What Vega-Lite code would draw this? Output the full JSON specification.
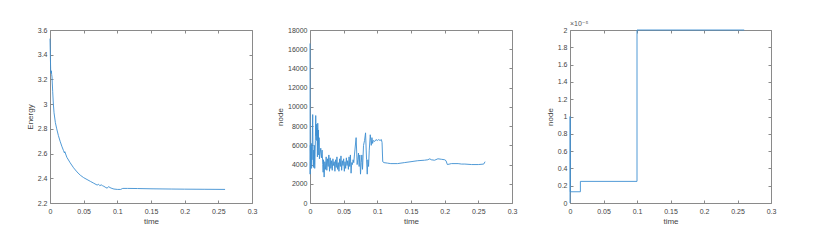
{
  "$schema": "https://vega.github.io/schema/vega-lite/v6.json",
  "background": "white",
  "padding": {"left": 25, "top": 19, "right": 5, "bottom": 5},
  "spacing": 58,
  "bounds": "flush",
  "datasets": {
    "energy": [
      {"t":0,"v":3.53},{"t":0.0005,"v":3.40},{"t":0.001,"v":3.27},{"t":0.0015,"v":3.25},{"t":0.002,"v":3.27},{"t":0.0025,"v":3.24},{"t":0.003,"v":3.22},{"t":0.004,"v":3.10},{"t":0.005,"v":3.00},{"t":0.006,"v":2.93},{"t":0.008,"v":2.85},{"t":0.01,"v":2.80},{"t":0.0125,"v":2.745},{"t":0.015,"v":2.70},{"t":0.0175,"v":2.66},{"t":0.02,"v":2.625},{"t":0.0215,"v":2.605},{"t":0.022,"v":2.615},{"t":0.025,"v":2.57},{"t":0.03,"v":2.525},{"t":0.035,"v":2.485},{"t":0.04,"v":2.452},{"t":0.045,"v":2.425},{"t":0.05,"v":2.405},{"t":0.055,"v":2.39},{"t":0.06,"v":2.375},{"t":0.065,"v":2.36},{"t":0.07,"v":2.345},{"t":0.072,"v":2.352},{"t":0.074,"v":2.34},{"t":0.076,"v":2.347},{"t":0.078,"v":2.34},{"t":0.08,"v":2.335},{"t":0.083,"v":2.325},{"t":0.085,"v":2.32},{"t":0.087,"v":2.333},{"t":0.089,"v":2.325},{"t":0.092,"v":2.318},{"t":0.095,"v":2.313},{"t":0.1,"v":2.31},{"t":0.105,"v":2.31},{"t":0.108,"v":2.318},{"t":0.115,"v":2.318},{"t":0.13,"v":2.317},{"t":0.15,"v":2.315},{"t":0.18,"v":2.313},{"t":0.2,"v":2.312},{"t":0.23,"v":2.311},{"t":0.26,"v":2.31}
    ],
    "node": [
      {"t":0,"v":16600},{"t":0.0002,"v":3000},{"t":0.0005,"v":6000},{"t":0.001,"v":4200},{"t":0.0015,"v":5800},{"t":0.002,"v":3600},{"t":0.0025,"v":6200},{"t":0.003,"v":4500},{"t":0.004,"v":9200},{"t":0.0045,"v":5000},{"t":0.005,"v":3700},{"t":0.0055,"v":5500},{"t":0.006,"v":4000},{"t":0.0065,"v":6000},{"t":0.007,"v":3600},{"t":0.0075,"v":5000},{"t":0.008,"v":6500},{"t":0.0085,"v":9100},{"t":0.009,"v":7000},{"t":0.0095,"v":8200},{"t":0.01,"v":6500},{"t":0.0105,"v":7800},{"t":0.011,"v":4800},{"t":0.0115,"v":8300},{"t":0.012,"v":6000},{"t":0.0125,"v":7600},{"t":0.013,"v":5000},{"t":0.0135,"v":6800},{"t":0.014,"v":4600},{"t":0.015,"v":5200},{"t":0.016,"v":5700},{"t":0.017,"v":4700},{"t":0.018,"v":5500},{"t":0.019,"v":4000},{"t":0.0195,"v":3200},{"t":0.02,"v":4500},{"t":0.021,"v":2700},{"t":0.022,"v":4300},{"t":0.023,"v":3500},{"t":0.024,"v":4800},{"t":0.025,"v":3400},{"t":0.026,"v":4600},{"t":0.027,"v":3800},{"t":0.028,"v":5000},{"t":0.029,"v":3300},{"t":0.03,"v":4700},{"t":0.031,"v":3600},{"t":0.032,"v":4400},{"t":0.033,"v":3400},{"t":0.034,"v":4600},{"t":0.035,"v":3900},{"t":0.036,"v":4300},{"t":0.037,"v":3300},{"t":0.038,"v":4500},{"t":0.039,"v":3700},{"t":0.04,"v":4800},{"t":0.041,"v":3500},{"t":0.042,"v":4200},{"t":0.043,"v":3300},{"t":0.044,"v":4600},{"t":0.045,"v":3800},{"t":0.046,"v":4900},{"t":0.047,"v":3400},{"t":0.048,"v":4400},{"t":0.049,"v":3900},{"t":0.05,"v":4600},{"t":0.051,"v":3300},{"t":0.052,"v":4300},{"t":0.053,"v":3600},{"t":0.054,"v":4700},{"t":0.055,"v":3900},{"t":0.056,"v":4400},{"t":0.057,"v":3500},{"t":0.058,"v":4800},{"t":0.059,"v":3800},{"t":0.06,"v":5000},{"t":0.061,"v":3100},{"t":0.062,"v":4200},{"t":0.063,"v":4000},{"t":0.064,"v":4500},{"t":0.065,"v":4200},{"t":0.066,"v":5000},{"t":0.0685,"v":6800},{"t":0.0695,"v":5000},{"t":0.07,"v":4000},{"t":0.071,"v":4500},{"t":0.072,"v":5200},{"t":0.073,"v":3800},{"t":0.074,"v":5000},{"t":0.075,"v":3000},{"t":0.076,"v":4200},{"t":0.077,"v":5000},{"t":0.078,"v":3500},{"t":0.0795,"v":6000},{"t":0.081,"v":6500},{"t":0.0825,"v":7300},{"t":0.084,"v":4500},{"t":0.085,"v":3000},{"t":0.086,"v":4500},{"t":0.087,"v":3800},{"t":0.088,"v":5500},{"t":0.0895,"v":7100},{"t":0.091,"v":6000},{"t":0.092,"v":6800},{"t":0.093,"v":6200},{"t":0.094,"v":6500},{"t":0.096,"v":6400},{"t":0.098,"v":6600},{"t":0.1,"v":6500},{"t":0.102,"v":6600},{"t":0.104,"v":6500},{"t":0.106,"v":6600},{"t":0.107,"v":6300},{"t":0.108,"v":4300},{"t":0.11,"v":4200},{"t":0.115,"v":4150},{"t":0.12,"v":4100},{"t":0.13,"v":4100},{"t":0.14,"v":4200},{"t":0.15,"v":4300},{"t":0.16,"v":4400},{"t":0.17,"v":4450},{"t":0.175,"v":4500},{"t":0.178,"v":4600},{"t":0.18,"v":4500},{"t":0.185,"v":4450},{"t":0.19,"v":4600},{"t":0.195,"v":4550},{"t":0.2,"v":4500},{"t":0.202,"v":4400},{"t":0.204,"v":4000},{"t":0.21,"v":4100},{"t":0.22,"v":4100},{"t":0.225,"v":4050},{"t":0.23,"v":4050},{"t":0.24,"v":4000},{"t":0.25,"v":4000},{"t":0.258,"v":4050},{"t":0.26,"v":4300}
    ],
    "step": [
      {"i":0,"t":0,"v":0},{"i":1,"t":0.0002,"v":1.0},{"i":2,"t":0.0004,"v":0.13},{"i":3,"t":0.0155,"v":0.13},{"i":4,"t":0.0155,"v":0.25},{"i":5,"t":0.1,"v":0.25},{"i":6,"t":0.1,"v":2.0},{"i":7,"t":0.26,"v":2.0}
    ]
  },
  "hconcat": [
    {
      "width": 202, "height": 173,
      "data": {"name": "energy"},
      "layer": [
        {
          "mark": {"type": "line", "color": "#3d8fd1", "strokeWidth": 0.9},
          "encoding": {
            "x": {"field": "t", "type": "quantitative", "scale": {"domain": [0, 0.3], "nice": false},
                  "axis": {"orient": "bottom", "title": "time", "values": [0,0.05,0.1,0.15,0.2,0.25,0.3], "format": "~g"}},
            "y": {"field": "v", "type": "quantitative", "scale": {"domain": [2.2, 3.6], "nice": false, "zero": false},
                  "axis": {"orient": "left", "title": "Energy", "values": [2.2,2.4,2.6,2.8,3,3.2,3.4,3.6], "format": "~g"}}
          }
        },
        {
          "mark": {"type": "line", "opacity": 0},
          "encoding": {
            "x": {"field": "t", "type": "quantitative", "axis": {"orient": "top", "labels": false, "title": null, "values": [0,0.05,0.1,0.15,0.2,0.25,0.3]}},
            "y": {"field": "v", "type": "quantitative", "axis": {"orient": "right", "labels": false, "title": null, "values": [2.2,2.4,2.6,2.8,3,3.2,3.4,3.6]}}
          }
        }
      ],
      "resolve": {"axis": {"x": "independent", "y": "independent"}}
    },
    {
      "width": 202, "height": 173,
      "data": {"name": "node"},
      "layer": [
        {
          "mark": {"type": "line", "color": "#3d8fd1", "strokeWidth": 0.9},
          "encoding": {
            "x": {"field": "t", "type": "quantitative", "scale": {"domain": [0, 0.3], "nice": false},
                  "axis": {"orient": "bottom", "title": "time", "values": [0,0.05,0.1,0.15,0.2,0.25,0.3], "format": "~g"}},
            "y": {"field": "v", "type": "quantitative", "scale": {"domain": [0, 18000], "nice": false},
                  "axis": {"orient": "left", "title": "node", "values": [0,2000,4000,6000,8000,10000,12000,14000,16000,18000], "format": "d"}}
          }
        },
        {
          "mark": {"type": "line", "opacity": 0},
          "encoding": {
            "x": {"field": "t", "type": "quantitative", "axis": {"orient": "top", "labels": false, "title": null, "values": [0,0.05,0.1,0.15,0.2,0.25,0.3]}},
            "y": {"field": "v", "type": "quantitative", "axis": {"orient": "right", "labels": false, "title": null, "values": [0,2000,4000,6000,8000,10000,12000,14000,16000,18000]}}
          }
        }
      ],
      "resolve": {"axis": {"x": "independent", "y": "independent"}}
    },
    {
      "width": 201, "height": 173,
      "title": {"text": "×10⁻⁵", "anchor": "start", "frame": "group", "fontSize": 7, "fontWeight": "normal", "color": "#555555", "offset": -1, "font": "Liberation Sans, DejaVu Sans"},
      "data": {"name": "step"},
      "layer": [
        {
          "mark": {"type": "line", "color": "#3d8fd1", "strokeWidth": 0.9},
          "encoding": {
            "x": {"field": "t", "type": "quantitative", "scale": {"domain": [0, 0.3], "nice": false},
                  "axis": {"orient": "bottom", "title": "time", "values": [0,0.05,0.1,0.15,0.2,0.25,0.3], "format": "~g"}},
            "y": {"field": "v", "type": "quantitative", "scale": {"domain": [0, 2], "nice": false},
                  "axis": {"orient": "left", "title": "node", "values": [0,0.2,0.4,0.6,0.8,1,1.2,1.4,1.6,1.8,2], "format": "~g"}},
            "order": {"field": "i"}
          }
        },
        {
          "mark": {"type": "line", "opacity": 0},
          "encoding": {
            "x": {"field": "t", "type": "quantitative", "axis": {"orient": "top", "labels": false, "title": null, "values": [0,0.05,0.1,0.15,0.2,0.25,0.3]}},
            "y": {"field": "v", "type": "quantitative", "axis": {"orient": "right", "labels": false, "title": null, "values": [0,0.2,0.4,0.6,0.8,1,1.2,1.4,1.6,1.8,2]}},
            "order": {"field": "i"}
          }
        }
      ],
      "resolve": {"axis": {"x": "independent", "y": "independent"}}
    }
  ],
  "config": {
    "font": "Liberation Sans",
    "view": {"stroke": "#8a8a8a", "strokeWidth": 1},
    "axis": {
      "domain": false,
      "grid": false,
      "ticks": true,
      "tickSize": -3,
      "tickColor": "#8a8a8a",
      "tickWidth": 1,
      "labelFlush": false,
      "labelOverlap": false,
      "labelFont": "Liberation Sans",
      "labelFontSize": 7,
      "labelColor": "#444444",
      "labelPadding": 6,
      "titleFont": "Liberation Sans",
      "titleFontSize": 8,
      "titleFontWeight": "normal",
      "titleColor": "#444444",
      "titlePadding": 3
    },
    "axisX": {"labelPadding": 7}
  }
}
